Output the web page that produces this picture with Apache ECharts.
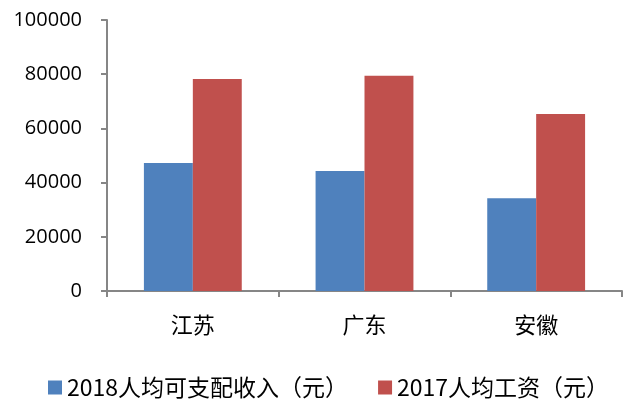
<!DOCTYPE html>
<html><head><meta charset="utf-8">
<script src="https://cdn.jsdelivr.net/npm/echarts@6/dist/echarts.min.js"></script>
<style>html,body{margin:0;padding:0;background:#fff}#c{width:626px;height:403px}</style>
</head><body><div id="c"></div>
<script>
var categories = ['江苏', '广东', '安徽'];
var seriesNames = ['2018人均可支配收入（元）', '2017人均工资（元）'];
var income2018 = [47200, 44300, 34200];
var wage2017 = [78267, 79400, 65300];
var yTicks = [0, 20000, 40000, 60000, 80000, 100000];

var chart = echarts.init(document.getElementById('c'));
chart.setOption({
  animation: false,
  grid: {left: 107, right: 4, top: 20, bottom: 112},
  legend: {
    left: 43, top: 371, itemWidth: 14, itemHeight: 14, itemGap: 30,
    icon: 'rect',
    textStyle: {fontSize: 23, color: '#000', fontFamily: 'Noto Sans CJK SC'},
    data: seriesNames
  },
  xAxis: {
    type: 'category', data: categories,
    axisLine: {lineStyle: {color: '#868686', width: 2}},
    axisTick: {show: true, length: 6, lineStyle: {color: '#868686', width: 2}},
    axisLabel: {fontSize: 22, color: '#000', margin: 23, fontFamily: 'Noto Sans CJK SC'}
  },
  yAxis: {
    type: 'value', min: yTicks[0], max: yTicks[yTicks.length-1], interval: 20000,
    axisLine: {show: true, lineStyle: {color: '#868686', width: 2}},
    axisTick: {show: true, length: 6, lineStyle: {color: '#868686', width: 2}},
    splitLine: {show: false},
    axisLabel: {fontSize: 20, color: '#000', margin: 25, fontFamily: 'Open Sans', formatter: function (v) { return String(v); }}
  },
  series: [
    {name: seriesNames[0], type: 'bar', data: income2018, barGap: '0%', barCategoryGap: '43%', itemStyle: {color: '#4F81BD'}},
    {name: seriesNames[1], type: 'bar', data: wage2017, barGap: '0%', barCategoryGap: '43%', itemStyle: {color: '#C0504D'}}
  ]
});
</script></body></html>
